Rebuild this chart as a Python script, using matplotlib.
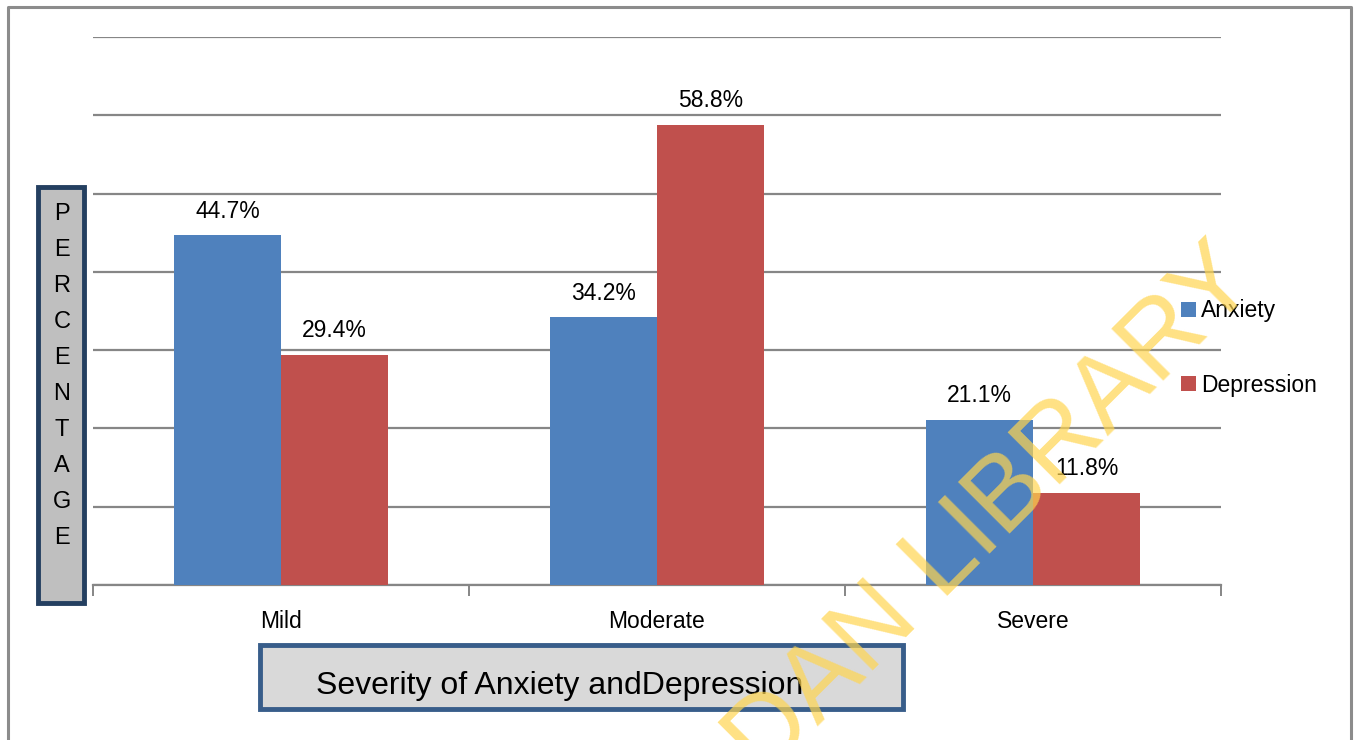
import matplotlib.pyplot as plt
from matplotlib.patches import Rectangle
import numpy as np

plt.rcParams['font.family'] = ['Liberation Sans', 'DejaVu Sans']

categories = ["Mild", "Moderate", "Severe"]
anxiety = [44.7, 34.2, 21.1]
depression = [29.4, 58.8, 11.8]
series_names = ["Anxiety", "Depression"]
colors = ["#4F81BD", "#C0504D"]

fig = plt.figure(figsize=(13.56, 7.40), dpi=100)
ax = fig.add_axes([93 / 1356, 155 / 740, 1128 / 1356, 548 / 740])

x = np.arange(len(categories))
w = 0.285
b1 = ax.bar(x - w / 2, anxiety, w, color=colors[0], label=series_names[0], zorder=3)
b2 = ax.bar(x + w / 2, depression, w, color=colors[1], label=series_names[1], zorder=3)

for bars, vals in [(b1, anxiety), (b2, depression)]:
    for r, v in zip(bars, vals):
        ax.annotate(f"{v}%", (r.get_x() + r.get_width() / 2, v),
                    xytext=(0, 9), textcoords="offset points",
                    ha="center", va="bottom", fontsize=16.5, zorder=5)

ax.set_xlim(-0.5, 2.5)
ax.set_ylim(0, 70)
ax.set_yticks(np.arange(0, 71, 10))
ax.yaxis.grid(True, color="#868686", lw=1.6, zorder=0)
ax.tick_params(axis="y", length=0, labelleft=False)
for s in ["top", "right", "left"]:
    ax.spines[s].set_visible(False)
ax.spines["bottom"].set_color("#868686")
ax.spines["bottom"].set_linewidth(1.6)

ax.set_xticks([-0.5, 0.5, 1.5, 2.5], minor=False)
ax.set_xticklabels([])
ax.tick_params(axis="x", length=8, width=1.4, color="#868686")
for xi, c in zip(x, categories):
    ax.text(xi, -4.7, c, ha="center", va="center", fontsize=16.5)

# legend
leg = fig.legend(handles=[b1, b2], loc="center left",
                 bbox_to_anchor=(1160 / 1356, (740 - 348) / 740),
                 frameon=False, fontsize=16.5, handlelength=0.65, handleheight=0.65,
                 handletextpad=0.25, labelspacing=2.23)

# y label box
fig.patches.append(Rectangle((38 / 1356, (740 - 603) / 740), 46 / 1356, 416 / 740,
                             transform=fig.transFigure, facecolor="#BFBFBF",
                             edgecolor="#243F60", lw=3.5, zorder=1))
for i, ch in enumerate("PERCENTAGE"):
    fig.text(62 / 1356, (740 - 214 - i * 36.0) / 740, ch, ha="center", va="center",
             fontsize=17)

# x label box
fig.patches.append(Rectangle((260 / 1356, (740 - 709) / 740), 643 / 1356, 64 / 740,
                             transform=fig.transFigure, facecolor="#D9D9D9",
                             edgecolor="#385D8A", lw=3.5, zorder=1))
fig.text(560 / 1356, (740 - 686) / 740, "Severity of Anxiety andDepression",
         ha="center", va="center", fontsize=23)

# outer frame (open at bottom)
fig.add_artist(plt.Line2D([8 / 1356, 8 / 1356, 1351 / 1356, 1351 / 1356],
                          [0, (740 - 7) / 740, (740 - 7) / 740, 0],
                          transform=fig.transFigure, color="#8C8C8C", lw=2.2))

# watermark
fig.text(1260 / 1356, (740 - 284) / 740, "UNIVERSITY OF IBADAN LIBRARY",
         rotation=45, rotation_mode="anchor", ha="right", va="baseline",
         fontsize=76, color="#FFD54F", alpha=0.7, zorder=10)

fig.savefig("out.png", dpi=100)
